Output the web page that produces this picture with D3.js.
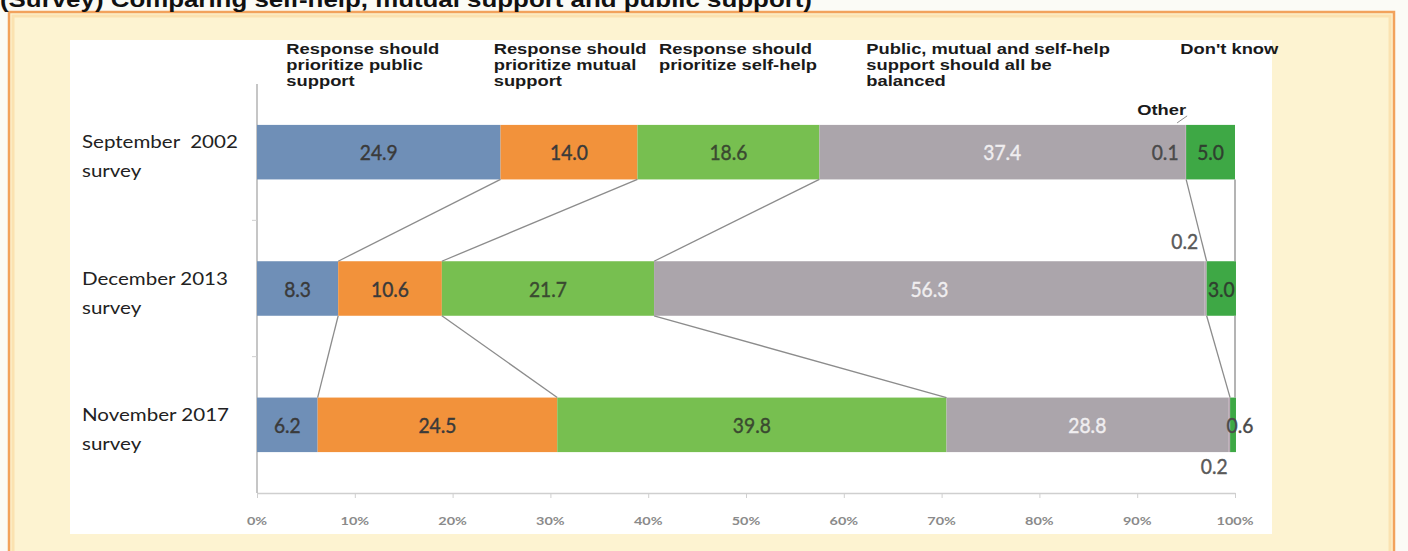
<!DOCTYPE html>
<html><head><meta charset="utf-8">
<script src="https://cdn.jsdelivr.net/npm/d3@7"></script>
<style>body{margin:0;background:#fff;overflow:hidden}svg{display:block}</style>
</head><body>
<svg id="c" width="1408" height="551"></svg>
<script>
// ---------------- data ----------------
const titleText = "(Survey) Comparing self-help, mutual support and public support)";
const categories = [["September  2002", "survey"], ["December 2013", "survey"], ["November 2017", "survey"]];
const seriesKeys = ["public", "mutual", "self", "balanced", "other", "dontknow"];
const legendLines = [
  ["Response should", "prioritize public", "support"],
  ["Response should", "prioritize mutual", "support"],
  ["Response should", "prioritize self-help"],
  ["Public, mutual and self-help", "support should all be", "balanced"],
  ["Other"],
  ["Don't know"]
];
const publicSupport = [24.9, 8.3, 6.2];
const mutualSupport = [14.0, 10.6, 24.5];
const selfHelp = [18.6, 21.7, 39.8];
const balanced = [37.4, 56.3, 28.8];
const other = [0.1, 0.2, 0.2];
const dontKnow = [5.0, 3.0, 0.6];
const tickValues = [0, 10, 20, 30, 40, 50, 60, 70, 80, 90, 100];
const tickLabels = ["0%", "10%", "20%", "30%", "40%", "50%", "60%", "70%", "80%", "90%", "100%"];

// ---------------- setup ----------------
const colors = ["#6f8fb7", "#f2923b", "#77bf50", "#aba5ab", "#b8a8b3", "#3ea845"];
const valueColors = ["#3a3a3a", "#3a3a3a", "#3a4a30", "#f0eef0", "#4a4a4a", "#2f3f2f"];
const svg = d3.select("#c");

const rows = categories.map((c, i) => ({
  key: String(i), public: publicSupport[i], mutual: mutualSupport[i], self: selfHelp[i],
  balanced: balanced[i], other: other[i], dontknow: dontKnow[i]
}));
const stack = d3.stack().keys(seriesKeys)(rows);

const x = d3.scaleLinear().domain([0, 100]).range([257, 1235]);
const y = d3.scaleBand().domain(rows.map(r => r.key)).range([84, 493]).paddingInner(0.6).paddingOuter(0.3);
const bw = y.bandwidth();

function measure(str, font) {
  const t = svg.append("text").style("font", font).style("white-space", "pre").text(str);
  const w = t.node().getComputedTextLength();
  t.remove();
  return w;
}
function stretched(g, str, px, py, font, sx, anchor, fill) {
  return g.append("text")
    .attr("transform", `translate(${px},${py}) scale(${sx},1)`)
    .style("font", font).style("white-space", "pre").attr("text-anchor", anchor || "start")
    .attr("fill", fill).text(str);
}

// ---------------- frame ----------------
svg.append("rect").attr("x", 0).attr("y", 0).attr("width", 1408).attr("height", 551).attr("fill", "#fbfbf6");
svg.append("rect").attr("x", 9).attr("y", 12).attr("width", 1385).attr("height", 600)
  .attr("fill", "#fdf3d1").attr("stroke", "#f2a25c").attr("stroke-width", 2.5);
svg.append("rect").attr("x", 13).attr("y", 16).attr("width", 1377).attr("height", 600)
  .attr("fill", "none").attr("stroke", "#fbe2b0").attr("stroke-width", 3);
svg.append("rect").attr("x", 70).attr("y", 40).attr("width", 1202).attr("height", 494).attr("fill", "#ffffff");

// title (cut at top, as in the reference)
svg.append("text").attr("x", 0).attr("y", 7)
  .attr("textLength", 812).attr("lengthAdjust", "spacingAndGlyphs")
  .style("font", "bold 22px 'Liberation Sans', Arial, sans-serif").attr("fill", "#111")
  .text(titleText);

// ---------------- axes ----------------
const gx = svg.append("g").attr("transform", `translate(0,${y.range()[1]})`)
  .call(d3.axisBottom(x).tickValues(tickValues).tickFormat("").tickSize(5).tickSizeOuter(0));
gx.select(".domain").attr("stroke", "#cfcfcf").attr("stroke-width", 1.5);
gx.selectAll(".tick line").attr("stroke", "#cfcfcf");

const tickFont = "bold 12px Lato, 'Open Sans', sans-serif";
const tickSx = 37 / measure("100%", tickFont);
const gt = svg.append("g");
tickValues.forEach((v, i) => stretched(gt, tickLabels[i], x(v), 525, tickFont, tickSx, "middle", "#8a8a8a"));

svg.append("line").attr("x1", x(0)).attr("x2", x(0)).attr("y1", y.range()[0]).attr("y2", y.range()[1])
  .attr("stroke", "#a0a0a0").attr("stroke-width", 1.2);
[1, 2].forEach(k => {
  const yy = y.range()[0] + y.step() * k;
  svg.append("line").attr("x1", x(0) - 5).attr("x2", x(0)).attr("y1", yy).attr("y2", yy).attr("stroke", "#cfcfcf");
});

// ---------------- category labels ----------------
const catFont = "17px Lato, 'Open Sans', sans-serif";
const catSx = 146 / measure("December 2013", catFont);
const gc = svg.append("g");
categories.forEach((lines, i) => {
  const cy = y(String(i)) + bw / 2;
  stretched(gc, lines[0], 82, cy - 4, catFont, catSx, "start", "#222");
  stretched(gc, lines[1], 82, cy + 25, catFont, catSx, "start", "#222");
});

// ---------------- bars ----------------
const gb = svg.append("g");
stack.forEach((s, si) => {
  gb.selectAll(null).data(s).enter().append("rect")
    .attr("x", d => x(d[0]))
    .attr("y", d => y(d.data.key))
    .attr("width", d => Math.max(0.8, x(d[1]) - x(d[0])))
    .attr("height", bw)
    .attr("fill", colors[si]);
});

// ---------------- connector lines ----------------
const gl = svg.append("g").attr("stroke", "#8c8c8c").attr("stroke-width", 1.3).attr("fill", "none");
for (let i = 0; i < rows.length - 1; i++) {
  const yTop = y(String(i)) + bw, yBot = y(String(i + 1));
  [0, 1, 2, 4].forEach(si => {
    gl.append("line").attr("x1", x(stack[si][i][1])).attr("y1", yTop)
      .attr("x2", x(stack[si][i + 1][1])).attr("y2", yBot);
  });
  gl.append("line").attr("x1", x(100)).attr("y1", yTop).attr("x2", x(100)).attr("y2", yBot);
}
// leader from "Other" label
gl.append("line").attr("x1", x(stack[4][0][0]) - 8).attr("y1", y("0") - 2)
  .attr("x2", x(stack[4][0][0]) + 2).attr("y2", y("0") - 9).attr("stroke-width", 1);

// ---------------- value labels ----------------
const valFont = "21px Lato, 'Open Sans', sans-serif";
const valSx = 38 / measure("24.9", valFont);
const gv = svg.append("g");
stack.forEach((s, si) => {
  s.forEach((d, i) => {
    const v = d.data[seriesKeys[si]];
    const top = y(d.data.key), cy = top + bw / 2;
    let px = (x(d[0]) + x(d[1])) / 2, py = cy + 8, fill = valueColors[si];
    if (si === 4) {
      if (i === 0) { px = x(d[0]) - 20; }
      else if (i === 1) { px = x(d[0]) - 20; py = top - 12; fill = "#5a5a5a"; }
      else { px = x(d[0]) - 14; py = top + bw + 22; fill = "#5a5a5a"; }
    }
    if (si === 5 && i === 2) { px = x(100) + 5; fill = "#4a4a4a"; }
    stretched(gv, v.toFixed(1), px, py, valFont, valSx, "middle", fill)
      .attr("stroke", fill).attr("stroke-width", 0.4);
  });
});

// ---------------- legend labels ----------------
const legFont = "bold 15px 'Liberation Sans', Arial, sans-serif";
const legSx = 153 / measure("Response should", legFont);
const legX = [3.0, 24.2, 41.1, 62.3, 90.0, 94.4];
const legY = [54, 54, 54, 54, 115, 54];
const gleg = svg.append("g");
legendLines.forEach((lines, si) => {
  lines.forEach((ln, li) => stretched(gleg, ln, x(legX[si]), legY[si] + li * 16, legFont, legSx, "start", "#1a1a1a"));
});
</script>
</body></html>
